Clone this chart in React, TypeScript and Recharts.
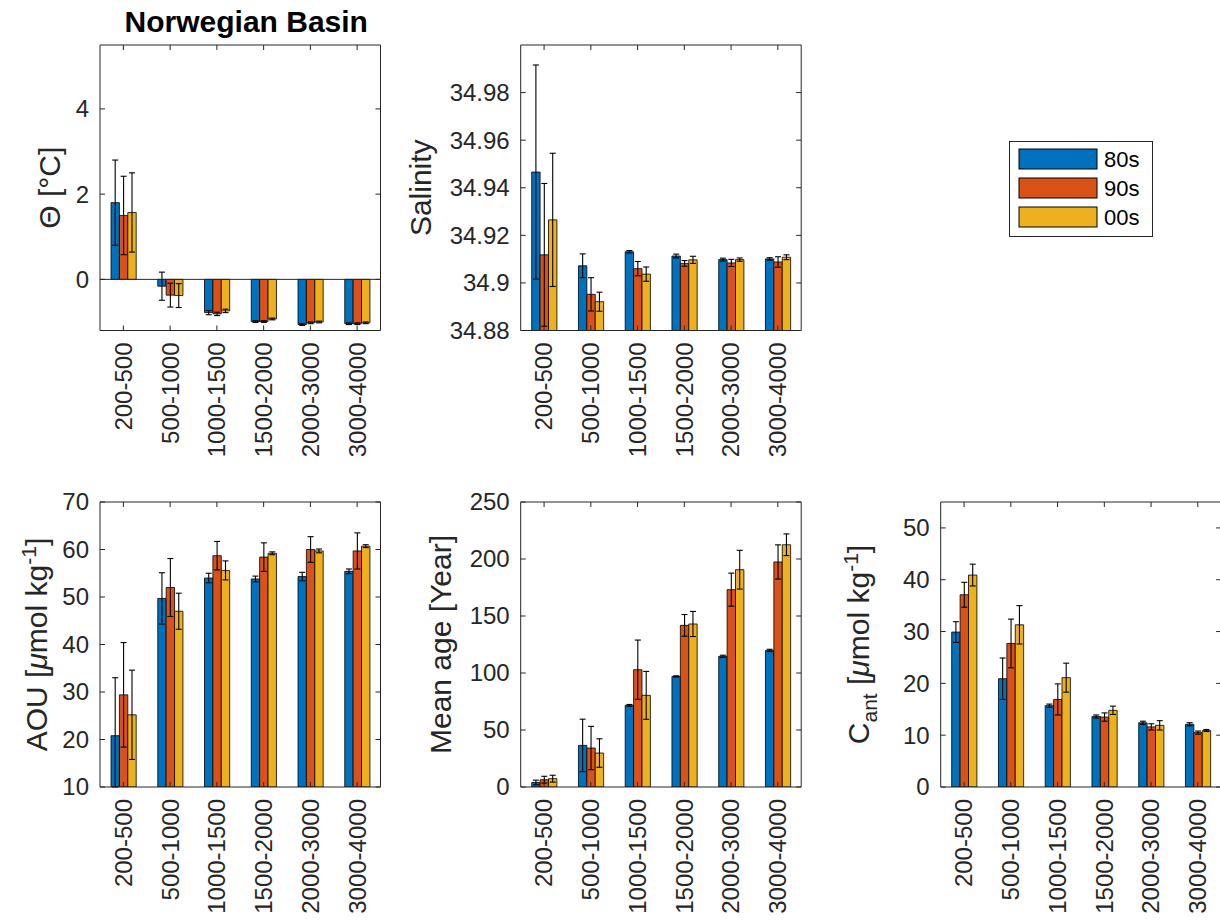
import React from 'react';
import { BarChart, Bar, XAxis, YAxis, ErrorBar, ReferenceLine, Legend } from 'recharts';

const categories = ['200-500', '500-1000', '1000-1500', '1500-2000', '2000-3000', '3000-4000'];
const seriesNames = ['80s', '90s', '00s'];
const colors = ['#0072BD', '#D95319', '#EDB120'];

// Theta [°C]
const theta80 = [1.8, -0.16, -0.78, -0.99, -1.06, -1.04];
const theta80Err = [1.0, 0.33, 0.05, 0.02, 0.02, 0.02];
const theta90 = [1.5, -0.37, -0.81, -0.99, -1.02, -1.04];
const theta90Err = [0.92, 0.28, 0.04, 0.02, 0.02, 0.02];
const theta00 = [1.57, -0.38, -0.74, -0.93, -1.0, -1.02];
const theta00Err = [0.93, 0.28, 0.04, 0.02, 0.02, 0.02];
const thetaTicks = [0, 2, 4];

// Salinity
const sal80 = [34.9466, 34.9072, 34.9131, 34.9113, 34.9098, 34.9101];
const sal80Err = [0.045, 0.005, 0.0005, 0.0008, 0.0006, 0.0005];
const sal90 = [34.9118, 34.8952, 34.906, 34.9082, 34.9084, 34.9088];
const sal90Err = [0.03, 0.007, 0.003, 0.0012, 0.0015, 0.0022];
const sal00 = [34.9265, 34.8921, 34.9037, 34.9097, 34.9098, 34.9108];
const sal00Err = [0.028, 0.004, 0.003, 0.0015, 0.0007, 0.001];
const salTicks = [34.88, 34.9, 34.92, 34.94, 34.96, 34.98];

// AOU
const aou80 = [20.8, 49.7, 54.0, 53.8, 54.3, 55.4];
const aou80Err = [12.2, 5.4, 1.0, 0.6, 0.9, 0.5];
const aou90 = [29.4, 52.0, 58.7, 58.4, 60.0, 59.7];
const aou90Err = [11.0, 6.1, 3.0, 3.0, 2.7, 3.8];
const aou00 = [25.2, 47.0, 55.6, 59.2, 59.7, 60.7];
const aou00Err = [9.4, 3.8, 2.0, 0.3, 0.4, 0.3];
const aouTicks = [10, 20, 30, 40, 50, 60, 70];

// Mean age
const age80 = [4.0, 36.5, 71.6, 97.0, 114.6, 119.8];
const age80Err = [2, 23, 0.8, 0.5, 1, 1];
const age90 = [6.4, 34.2, 102.9, 141.8, 173.1, 197.4];
const age90Err = [3, 19, 26, 9.5, 14.5, 15];
const age00 = [7.3, 29.8, 80.4, 143.0, 190.6, 212.5];
const age00Err = [3, 12.5, 21, 11, 17, 9.5];
const ageTicks = [0, 50, 100, 150, 200, 250];

// Cant
const cant80 = [29.9, 20.9, 15.7, 13.6, 12.4, 12.1];
const cant80Err = [2.0, 4.0, 0.3, 0.3, 0.3, 0.3];
const cant90 = [37.1, 27.7, 16.9, 13.5, 11.6, 10.5];
const cant90Err = [2.4, 4.7, 3.0, 0.8, 0.6, 0.3];
const cant00 = [40.9, 31.3, 21.1, 14.8, 11.9, 10.9];
const cant00Err = [2.1, 3.7, 2.8, 0.8, 0.9, 0.2];
const cantTicks = [0, 10, 20, 30, 40, 50];

// error bars are clipped at the lower axis limit (as the axes box clips them)
const build = (
  a: number[], ae: number[], b: number[], be: number[], c: number[], ce: number[], lo: number
) =>
  categories.map((cat, i) => ({
    cat,
    v0: a[i], e0: [Math.min(ae[i], a[i] - lo), ae[i]],
    v1: b[i], e1: [Math.min(be[i], b[i] - lo), be[i]],
    v2: c[i], e2: [Math.min(ce[i], c[i] - lo), ce[i]],
  }));

const thetaData = build(theta80, theta80Err, theta90, theta90Err, theta00, theta00Err, -1.2);
const salData = build(sal80, sal80Err, sal90, sal90Err, sal00, sal00Err, 34.88);
const aouData = build(aou80, aou80Err, aou90, aou90Err, aou00, aou00Err, 10);
const ageData = build(age80, age80Err, age90, age90Err, age00, age00Err, 0);
const cantData = build(cant80, cant80Err, cant90, cant90Err, cant00, cant00Err, 0);

const FONT = '"Liberation Sans", Arial, Helvetica, sans-serif';
const AX = '#262626';
const TICK_FS = 24;
const LABEL_FS = 30;

type Plot = { x0: number; x1: number; y0: number; y1: number };

type PanelProps = {
  left: number;
  top: number;
  width: number;
  height: number;
  plot: Plot;
  data: any[];
  domain: [number, number];
  ticks: number[];
  fmt: (v: number) => string;
  labelX: number;
  labelContent: React.ReactNode;
  title?: string;
  zeroLine?: boolean;
  legend?: { x: number; y: number };
};

const EmptyTick = () => <g />;

const LegendBox = (props: any) => {
  const payload = ([...(props.payload || [])] as any[]).sort(
    (a, b) => seriesNames.indexOf(a.value) - seriesNames.indexOf(b.value)
  );
  const w = 144;
  const h = 96;
  return (
    <svg width={w} height={h} style={{ display: 'block' }}>
      <rect x={0.5} y={0.5} width={w - 1} height={h - 1} fill="#fff" stroke={AX} strokeWidth={1} />
      {payload.map((p, i) => (
        <g key={i}>
          <rect x={10} y={8 + i * 29} width={78} height={20} fill={p.color} stroke="#000" strokeWidth={1} />
          <text x={95} y={18 + i * 29} dy="0.35em" fontSize={22} fontFamily={FONT} fill="#000">
            {p.value}
          </text>
        </g>
      ))}
    </svg>
  );
};

function Panel(p: PanelProps) {
  const { left, top, width, height, plot } = p;
  const margin = {
    top: plot.y0 - top,
    left: plot.x0 - left,
    right: left + width - plot.x1,
    bottom: top + height - plot.y1,
  };
  const xLabY = plot.y1 - top + 12;
  const yLabX = plot.x0 - left - 11;
  const cx = p.labelX - left;
  const cy = (plot.y0 + plot.y1) / 2 - top;

  const XTick = (tp: any) => (
    <text
      x={tp.x}
      y={xLabY}
      transform={`rotate(-90, ${tp.x}, ${xLabY})`}
      textAnchor="end"
      dy="0.35em"
      fontSize={TICK_FS}
      fontFamily={FONT}
      fill={AX}
    >
      {tp.payload.value}
    </text>
  );
  const YTick = (tp: any) => (
    <text x={yLabX} y={tp.y} textAnchor="end" dy="0.35em" fontSize={TICK_FS} fontFamily={FONT} fill={AX}>
      {p.fmt(tp.payload.value)}
    </text>
  );
  const YLabel = () => (
    <text
      x={cx}
      y={cy}
      transform={`rotate(-90, ${cx}, ${cy})`}
      textAnchor="middle"
      dy="0.35em"
      fontSize={LABEL_FS}
      fontFamily={FONT}
      fill={AX}
    >
      {p.labelContent}
    </text>
  );
  const Title = () =>
    p.title ? (
      <text
        x={(plot.x0 + plot.x1) / 2 - left + 6}
        y={plot.y0 - top - 13}
        textAnchor="middle"
        fontSize={30}
        fontWeight="bold"
        fontFamily={FONT}
        fill="#000"
      >
        {p.title}
      </text>
    ) : (
      <g />
    );

  return (
    <div style={{ position: 'absolute', left, top }}>
      <BarChart width={width} height={height} data={p.data} margin={margin} barGap={0} barSize={8.4}>
        <XAxis
          xAxisId="b"
          dataKey="cat"
          orientation="bottom"
          mirror
          interval={0}
          tickSize={5}
          tick={XTick}
          axisLine={{ stroke: AX, strokeWidth: 1 }}
          tickLine={{ stroke: AX, strokeWidth: 1 }}
        />
        <XAxis
          xAxisId="t"
          dataKey="cat"
          orientation="top"
          mirror
          interval={0}
          tickSize={5}
          tick={EmptyTick}
          axisLine={{ stroke: AX, strokeWidth: 1 }}
          tickLine={{ stroke: AX, strokeWidth: 1 }}
          label={Title}
        />
        <YAxis
          yAxisId="l"
          type="number"
          domain={p.domain}
          ticks={p.ticks}
          allowDataOverflow
          mirror
          interval={0}
          tickSize={5}
          tick={YTick}
          axisLine={{ stroke: AX, strokeWidth: 1 }}
          tickLine={{ stroke: AX, strokeWidth: 1 }}
          label={YLabel}
        />
        <YAxis
          yAxisId="r"
          orientation="right"
          type="number"
          domain={p.domain}
          ticks={p.ticks}
          allowDataOverflow
          mirror
          interval={0}
          tickSize={5}
          tick={EmptyTick}
          axisLine={{ stroke: AX, strokeWidth: 1 }}
          tickLine={{ stroke: AX, strokeWidth: 1 }}
        />
        {p.zeroLine && <ReferenceLine xAxisId="b" yAxisId="l" y={0} stroke={AX} strokeWidth={1} />}
        {[0, 1, 2].map((k) => (
          <Bar
            key={k}
            xAxisId="b"
            yAxisId="l"
            dataKey={`v${k}`}
            name={seriesNames[k]}
            fill={colors[k]}
            stroke="#000"
            strokeWidth={0.8}
            isAnimationActive={false}
          >
            <ErrorBar dataKey={`e${k}`} width={3} stroke="#000" strokeWidth={1.1} direction="y" />
          </Bar>
        ))}
        {p.legend && (
          <Legend
            layout="vertical"
            align="center"
            verticalAlign="middle"
            content={LegendBox}
            wrapperStyle={{ left: p.legend.x - left, top: p.legend.y - top, width: 144, height: 96 }}
          />
        )}
      </BarChart>
    </div>
  );
}

const fmtInt = (v: number) => String(v);
const fmtSal = (v: number) => String(parseFloat(v.toFixed(2)));

const sup = (s: string) => (
  <>
    <tspan dy={-11} fontSize={21}>
      {s}
    </tspan>
    <tspan dy={11}>]</tspan>
  </>
);

export default function App() {
  const top1: Plot = { x0: 100, x1: 380.5, y0: 45, y1: 330.5 };
  const top2: Plot = { x0: 520.7, x1: 801.2, y0: 45, y1: 330.5 };
  const bot1: Plot = { x0: 100, x1: 380.5, y0: 502, y1: 787 };
  const bot2: Plot = { x0: 520.7, x1: 801.2, y0: 502, y1: 787 };
  const bot3: Plot = { x0: 940.7, x1: 1221.2, y0: 502, y1: 787 };
  return (
    <div
      style={{
        position: 'absolute',
        left: 0,
        top: 0,
        width: 1220,
        height: 922,
        overflow: 'hidden',
        background: '#fff',
        fontFamily: FONT,
      }}
    >
      <Panel
        left={0}
        top={0}
        width={410}
        height={480}
        plot={top1}
        data={thetaData}
        domain={[-1.2, 5.5]}
        ticks={thetaTicks}
        fmt={fmtInt}
        labelX={49}
        labelContent={<tspan>Θ [°C]</tspan>}
        title="Norwegian Basin"
        zeroLine
      />
      <Panel
        left={380}
        top={0}
        width={840}
        height={480}
        plot={top2}
        data={salData}
        domain={[34.88, 35.0]}
        ticks={salTicks}
        fmt={fmtSal}
        labelX={420}
        labelContent={<tspan>Salinity</tspan>}
        legend={{ x: 1009, y: 141 }}
      />
      <Panel
        left={0}
        top={470}
        width={410}
        height={452}
        plot={bot1}
        data={aouData}
        domain={[10, 70]}
        ticks={aouTicks}
        fmt={fmtInt}
        labelX={36}
        labelContent={
          <>
            <tspan>AOU [</tspan>
            <tspan fontStyle="italic">μ</tspan>
            <tspan>mol kg</tspan>
            {sup('-1')}
          </>
        }
      />
      <Panel
        left={400}
        top={470}
        width={420}
        height={452}
        plot={bot2}
        data={ageData}
        domain={[0, 250]}
        ticks={ageTicks}
        fmt={fmtInt}
        labelX={440}
        labelContent={<tspan>Mean age [Year]</tspan>}
      />
      <Panel
        left={820}
        top={470}
        width={420}
        height={452}
        plot={bot3}
        data={cantData}
        domain={[0, 55]}
        ticks={cantTicks}
        fmt={fmtInt}
        labelX={858}
        labelContent={
          <>
            <tspan>C</tspan>
            <tspan dy={8} fontSize={21}>
              ant
            </tspan>
            <tspan dy={-8}> [</tspan>
            <tspan fontStyle="italic">μ</tspan>
            <tspan>mol kg</tspan>
            {sup('-1')}
          </>
        }
      />
    </div>
  );
}
